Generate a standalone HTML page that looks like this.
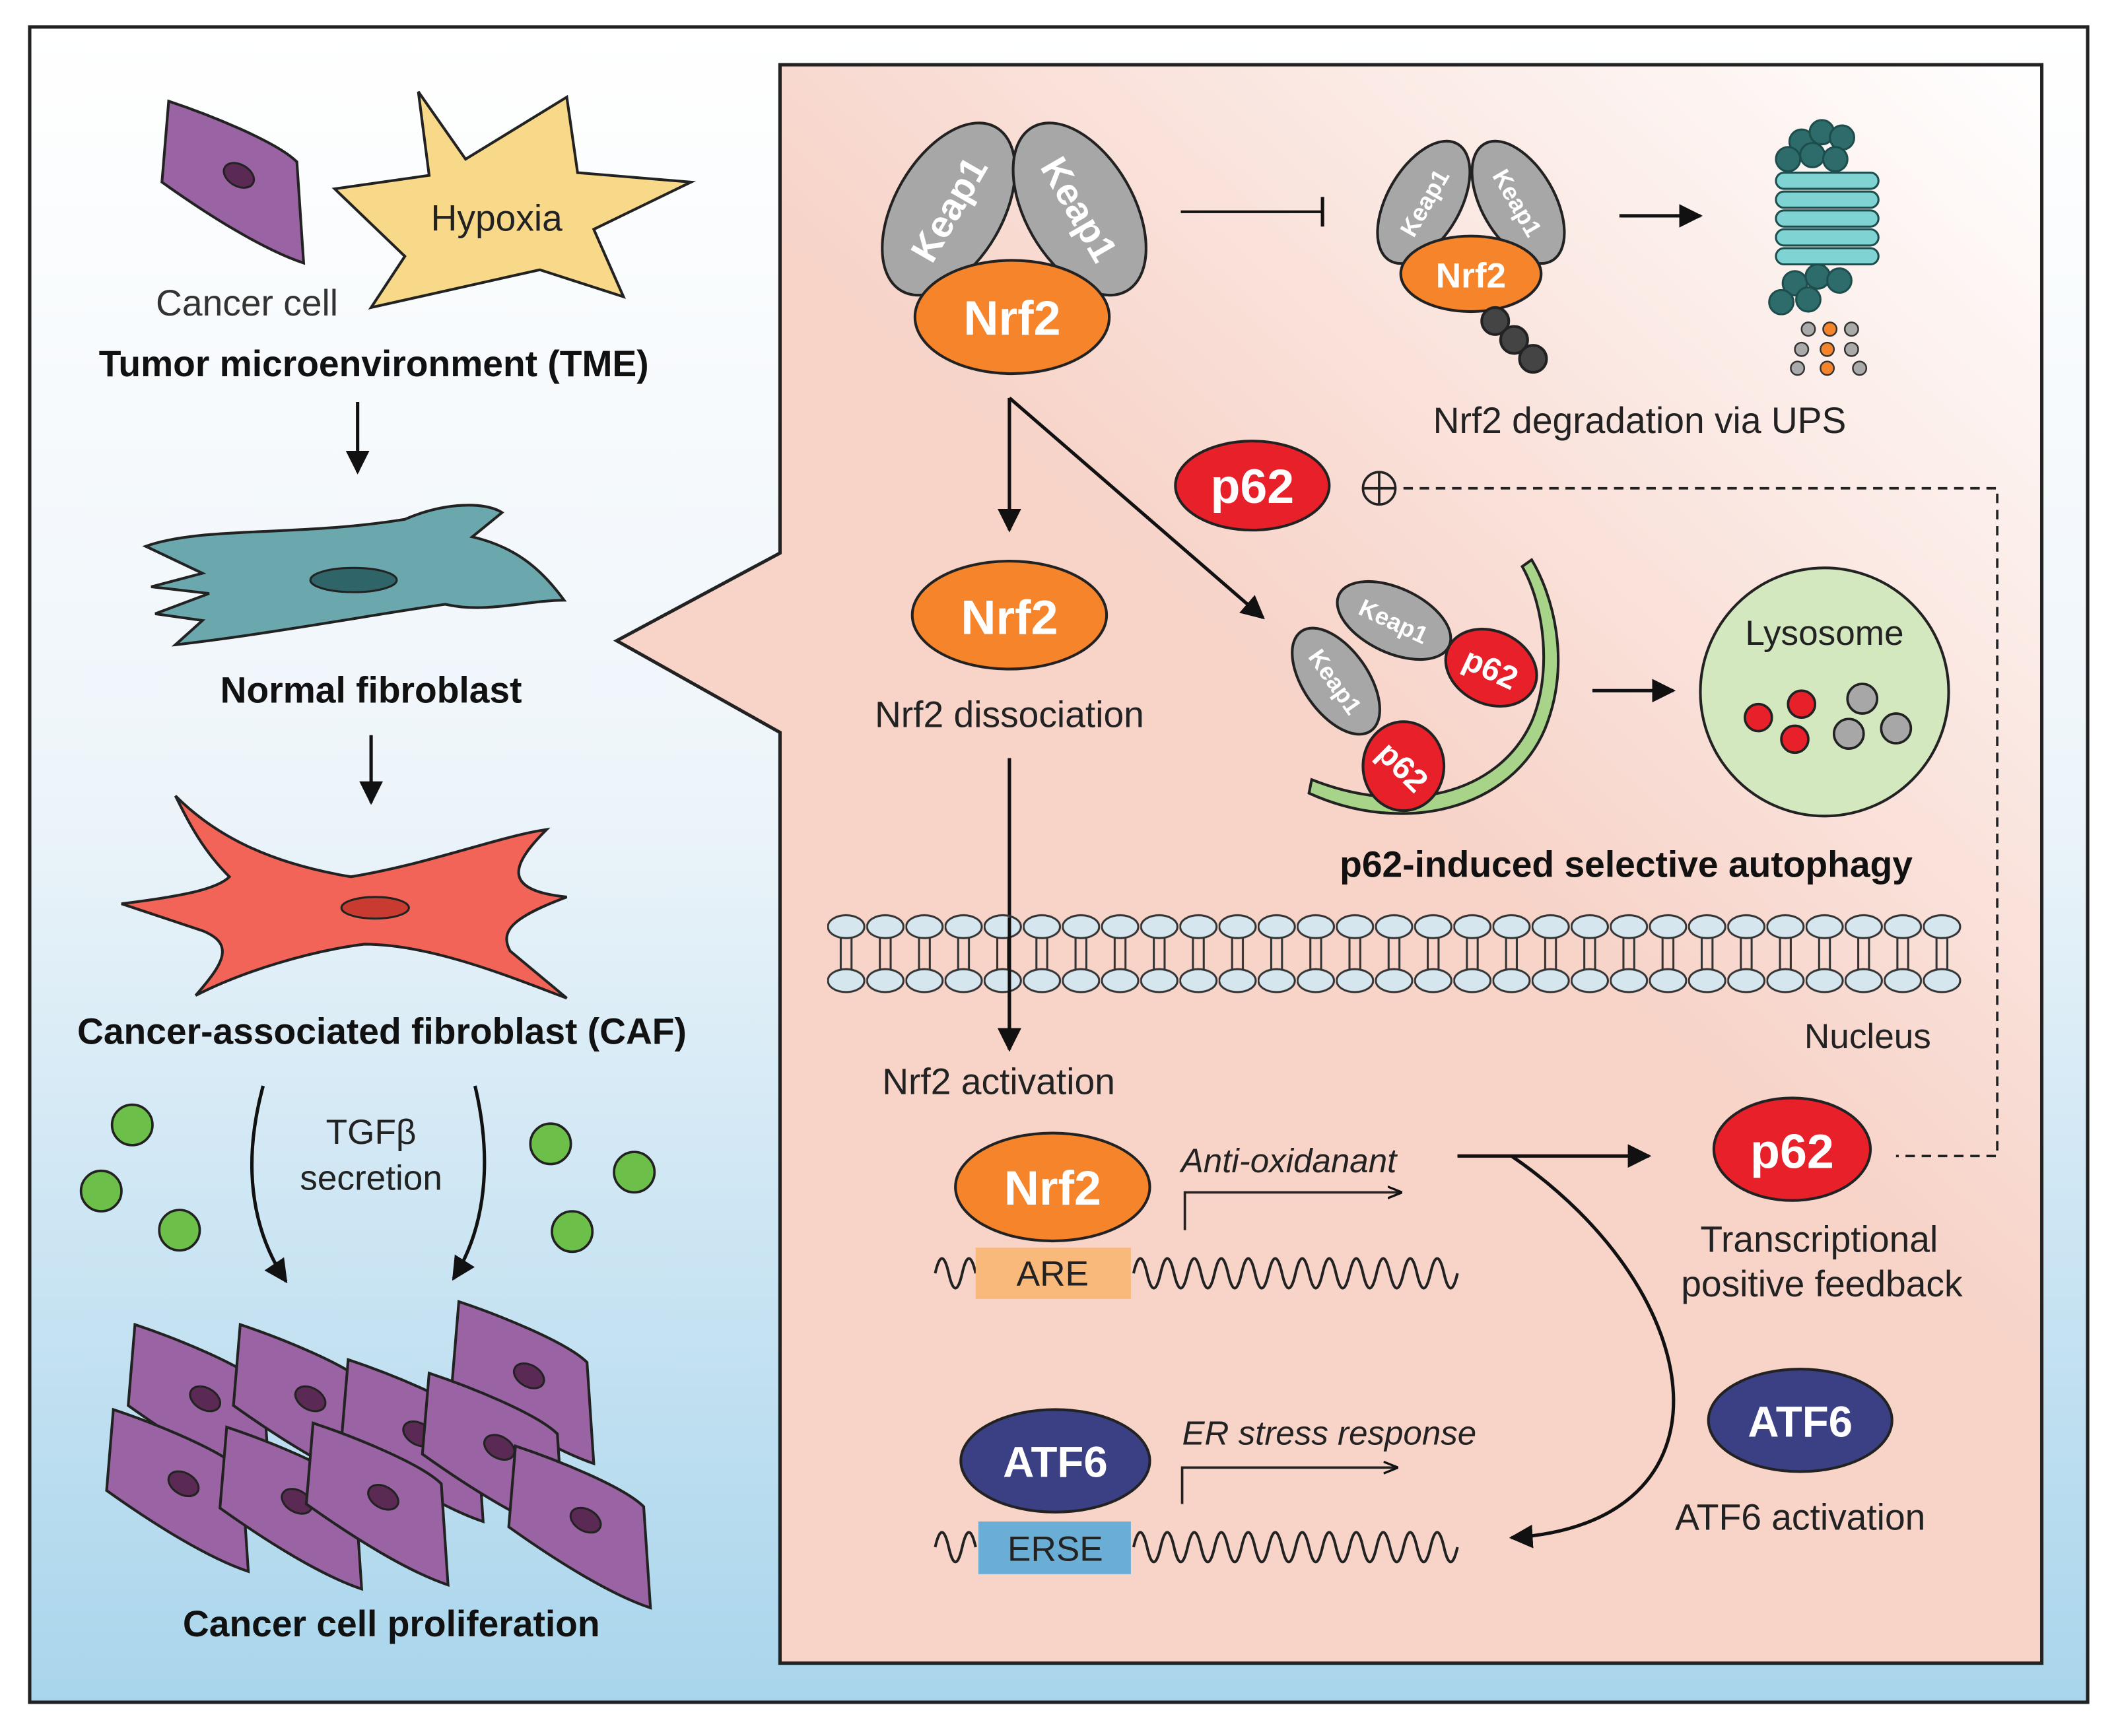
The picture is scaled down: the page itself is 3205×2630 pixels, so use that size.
<!DOCTYPE html>
<html><head><meta charset="utf-8"><style>
html,body{margin:0;padding:0;background:#fff}
svg{display:block}
text{font-family:"Liberation Sans",sans-serif}
</style></head><body>
<svg width="3205" height="2630" viewBox="0 0 1568 1287" preserveAspectRatio="none" xmlns="http://www.w3.org/2000/svg">
<defs>
<linearGradient id="bg" x1="0" y1="0" x2="0" y2="1"><stop offset="0" stop-color="#ffffff"/><stop offset="0.45" stop-color="#eef5fa"/><stop offset="1" stop-color="#a9d5ec"/></linearGradient>
<linearGradient id="pk" x1="1" y1="0" x2="0.6" y2="0.5"><stop offset="0" stop-color="#ffffff"/><stop offset="1" stop-color="#f7d3c8"/></linearGradient>
<marker id="ar" viewBox="0 0 10 10" refX="9" refY="5" markerWidth="7" markerHeight="7" orient="auto"><path d="M0,0L10,5L0,10z" fill="#111"/></marker>
<marker id="ar2" viewBox="0 0 10 10" refX="9" refY="5" markerWidth="6" markerHeight="6" orient="auto"><path d="M0,1L10,5L0,9" fill="none" stroke="#111" stroke-width="1.5"/></marker>
<pattern id="mem" x="613" y="675" width="29" height="64" patternUnits="userSpaceOnUse">
<line x1="10" y1="20" x2="10" y2="44" stroke="#333" stroke-width="1.5"/><line x1="18" y1="20" x2="18" y2="44" stroke="#333" stroke-width="1.5"/>
<ellipse cx="14" cy="12" rx="13.5" ry="8.5" fill="#d6e6ef" stroke="#333" stroke-width="1.5"/>
<ellipse cx="14" cy="52" rx="13.5" ry="8.5" fill="#d6e6ef" stroke="#333" stroke-width="1.5"/>
</pattern>
<g id="cc"><path d="M0,0 C30,10 80,30 95,45 L100,120 C70,110 30,85 -5,60 Z" fill="#9a63a3" stroke="#222" stroke-width="2"/><ellipse cx="52" cy="55" rx="12" ry="8" transform="rotate(30 52 55)" fill="#5a2a55" stroke="#222" stroke-width="1.5"/></g>
</defs>
<rect x="22" y="20" width="1525" height="1242" fill="url(#bg)" stroke="#222" stroke-width="2.5"/>
<path d="M578,48H1513V1233H578V543L457,475L578,410Z" fill="url(#pk)" stroke="#222" stroke-width="2.5"/>

<use href="#cc" transform="translate(125,75)"/>
<path d="M310,68 L345,118 L420,72 L428,128 L512,135 L440,170 L462,220 L400,200 L275,228 L300,190 L248,140 L318,130 Z" fill="#f8d98a" stroke="#222" stroke-width="2"/>
<text x="368" y="171" font-size="27" text-anchor="middle" fill="#222">Hypoxia</text>
<text x="183" y="234" font-size="27" text-anchor="middle" fill="#333">Cancer cell</text>
<text x="277" y="279" font-size="27" font-weight="bold" text-anchor="middle" fill="#111">Tumor microenvironment (TME)</text>
<line x1="265" y1="298" x2="265" y2="350" stroke="#111" stroke-width="2.5" marker-end="url(#ar)"/>
<path d="M108,405 C150,390 220,398 300,385 C330,372 360,372 372,380 L350,398 C380,405 400,420 418,445 C390,445 360,455 330,448 C280,455 200,470 130,478 L150,460 L115,455 L155,440 L112,435 L150,425 Z" fill="#6aa8ad" stroke="#222" stroke-width="2"/>
<ellipse cx="262" cy="430" rx="32" ry="9" fill="#2f6468" stroke="#222" stroke-width="1.5"/>
<text x="275" y="521" font-size="27" font-weight="bold" text-anchor="middle" fill="#111">Normal fibroblast</text>
<line x1="275" y1="545" x2="275" y2="595" stroke="#111" stroke-width="2.5" marker-end="url(#ar)"/>
<path d="M130,590 C160,620 200,640 260,650 C320,640 370,620 405,615 C380,640 370,660 420,665 C380,680 370,690 378,705 L420,740 C380,725 320,700 270,700 C230,705 180,720 145,738 C165,715 175,700 150,690 L90,670 C130,665 160,660 170,650 C150,630 140,610 130,590 Z" fill="#f26457" stroke="#222" stroke-width="2"/>
<ellipse cx="278" cy="673" rx="25" ry="8" fill="#c93a30" stroke="#222" stroke-width="1.5"/>
<text x="283" y="774" font-size="27" font-weight="bold" text-anchor="middle" fill="#111">Cancer-associated fibroblast (CAF)</text>
<path d="M195,805 C180,860 185,910 212,950" fill="none" stroke="#111" stroke-width="2.5" marker-end="url(#ar)"/>
<path d="M352,805 C365,860 360,910 336,948" fill="none" stroke="#111" stroke-width="2.5" marker-end="url(#ar)"/>
<text x="275" y="848" font-size="26" text-anchor="middle" fill="#222">TGFβ</text>
<text x="275" y="882" font-size="26" text-anchor="middle" fill="#222">secretion</text>
<g fill="#6cc04a" stroke="#222" stroke-width="1.8"><circle cx="98" cy="834" r="15"/><circle cx="75" cy="883" r="15"/><circle cx="133" cy="912" r="15"/><circle cx="408" cy="848" r="15"/><circle cx="470" cy="869" r="15"/><circle cx="424" cy="913" r="15"/></g>
<use href="#cc" transform="translate(340,965)"/>
<use href="#cc" transform="translate(100,982)"/>
<use href="#cc" transform="translate(178,982)"/>
<use href="#cc" transform="translate(258,1008)"/>
<use href="#cc" transform="translate(318,1018)"/>
<use href="#cc" transform="translate(84,1045)"/>
<use href="#cc" transform="translate(168,1058)"/>
<use href="#cc" transform="translate(232,1055)"/>
<use href="#cc" transform="translate(382,1072)"/>
<text x="290" y="1213" font-size="27" font-weight="bold" text-anchor="middle" fill="#111">Cancer cell proliferation</text>

<g stroke="#222" stroke-width="2">
<ellipse cx="703" cy="155" rx="40" ry="70" transform="rotate(30 703 155)" fill="#a7a7a7"/>
<ellipse cx="800" cy="155" rx="40" ry="70" transform="rotate(-30 800 155)" fill="#a7a7a7"/>
<ellipse cx="750" cy="235" rx="72" ry="42" fill="#f6842b"/>
</g>
<text x="703" y="165" font-size="28" font-weight="bold" fill="#fff" text-anchor="middle" transform="rotate(-60 703 155)">Keap1</text>
<text x="800" y="165" font-size="28" font-weight="bold" fill="#fff" text-anchor="middle" transform="rotate(60 800 155)">Keap1</text>
<text x="750" y="248" font-size="36" font-weight="bold" fill="#fff" text-anchor="middle">Nrf2</text>
<line x1="875" y1="157" x2="980" y2="157" stroke="#111" stroke-width="2"/><line x1="980" y1="146" x2="980" y2="168" stroke="#111" stroke-width="2.5"/>
<g stroke="#222" stroke-width="2">
<ellipse cx="1055" cy="150" rx="27" ry="50" transform="rotate(30 1055 150)" fill="#a7a7a7"/>
<ellipse cx="1125" cy="150" rx="27" ry="50" transform="rotate(-30 1125 150)" fill="#a7a7a7"/>
<ellipse cx="1090" cy="203" rx="52" ry="28" fill="#f6842b"/>
<circle cx="1108" cy="238" r="10" fill="#444"/><circle cx="1122" cy="252" r="10" fill="#444"/><circle cx="1136" cy="266" r="10" fill="#444"/>
</g>
<text x="1055" y="157" font-size="18" font-weight="bold" fill="#fff" text-anchor="middle" transform="rotate(-60 1055 150)">Keap1</text>
<text x="1125" y="157" font-size="18" font-weight="bold" fill="#fff" text-anchor="middle" transform="rotate(60 1125 150)">Keap1</text>
<text x="1090" y="213" font-size="26" font-weight="bold" fill="#fff" text-anchor="middle">Nrf2</text>
<line x1="1200" y1="160" x2="1260" y2="160" stroke="#111" stroke-width="2.5" marker-end="url(#ar)"/>
<g stroke="#1d4d4d" stroke-width="1.5">
<g fill="#2e6b6b"><circle cx="1335" cy="105" r="9"/><circle cx="1350" cy="98" r="9"/><circle cx="1365" cy="102" r="9"/><circle cx="1325" cy="118" r="9"/><circle cx="1343" cy="115" r="9"/><circle cx="1360" cy="118" r="9"/></g>
<g fill="#7fd3d3"><rect x="1316" y="128" width="76" height="12" rx="6"/><rect x="1316" y="142" width="76" height="12" rx="6"/><rect x="1316" y="156" width="76" height="12" rx="6"/><rect x="1316" y="170" width="76" height="12" rx="6"/><rect x="1316" y="184" width="76" height="12" rx="6"/></g>
<g fill="#2e6b6b"><circle cx="1330" cy="210" r="9"/><circle cx="1347" cy="205" r="9"/><circle cx="1363" cy="208" r="9"/><circle cx="1340" cy="222" r="9"/><circle cx="1320" cy="224" r="9"/></g>
</g>
<g stroke="#333" stroke-width="1.2"><circle cx="1340" cy="244" r="5" fill="#aaa"/><circle cx="1356" cy="244" r="5" fill="#f6842b"/><circle cx="1372" cy="244" r="5" fill="#aaa"/><circle cx="1335" cy="259" r="5" fill="#aaa"/><circle cx="1354" cy="259" r="5" fill="#f6842b"/><circle cx="1372" cy="259" r="5" fill="#aaa"/><circle cx="1332" cy="273" r="5" fill="#aaa"/><circle cx="1354" cy="273" r="5" fill="#f6842b"/><circle cx="1378" cy="273" r="5" fill="#aaa"/></g>
<text x="1215" y="321" font-size="27" text-anchor="middle" fill="#222">Nrf2 degradation via UPS</text>

<ellipse cx="928" cy="360" rx="57" ry="33" fill="#e8202a" stroke="#222" stroke-width="2"/>
<text x="928" y="373" font-size="36" font-weight="bold" fill="#fff" text-anchor="middle">p62</text>
<circle cx="1022" cy="362" r="12" fill="none" stroke="#222" stroke-width="1.8"/><path d="M1010,362H1034M1022,350V374" stroke="#222" stroke-width="1.8"/>
<path d="M1040,362H1480V857H1405" fill="none" stroke="#222" stroke-width="1.8" stroke-dasharray="7,5"/>

<line x1="748" y1="295" x2="748" y2="393" stroke="#111" stroke-width="2.5" marker-end="url(#ar)"/>
<line x1="748" y1="295" x2="936" y2="458" stroke="#111" stroke-width="2.5" marker-end="url(#ar)"/>
<ellipse cx="748" cy="456" rx="72" ry="40" fill="#f6842b" stroke="#222" stroke-width="2"/>
<text x="748" y="470" font-size="36" font-weight="bold" fill="#fff" text-anchor="middle">Nrf2</text>
<text x="748" y="539" font-size="27" text-anchor="middle" fill="#222">Nrf2 dissociation</text>
<line x1="748" y1="562" x2="748" y2="778" stroke="#111" stroke-width="2.5" marker-end="url(#ar)"/>

<path d="M970,588 C1040,620 1120,600 1145,540 C1165,490 1150,440 1135,415 L1128,420 C1145,450 1150,500 1135,535 C1110,590 1040,605 972,578 Z" fill="#a8d48a" stroke="#222" stroke-width="2"/>
<g stroke="#222" stroke-width="2">
<ellipse cx="1033" cy="460" rx="45" ry="24" transform="rotate(25 1033 460)" fill="#a7a7a7"/>
<ellipse cx="1105" cy="495" rx="35" ry="27" transform="rotate(25 1105 495)" fill="#e8202a"/>
<ellipse cx="990" cy="505" rx="24" ry="45" transform="rotate(-35 990 505)" fill="#a7a7a7"/>
<ellipse cx="1040" cy="568" rx="30" ry="33" fill="#e8202a"/>
</g>
<text x="1033" y="467" font-size="18" font-weight="bold" fill="#fff" text-anchor="middle" transform="rotate(25 1033 460)">Keap1</text>
<text x="1105" y="504" font-size="24" font-weight="bold" fill="#fff" text-anchor="middle" transform="rotate(25 1105 495)">p62</text>
<text x="990" y="512" font-size="18" font-weight="bold" fill="#fff" text-anchor="middle" transform="rotate(55 990 505)">Keap1</text>
<text x="1040" y="577" font-size="24" font-weight="bold" fill="#fff" text-anchor="middle" transform="rotate(45 1040 568)">p62</text>
<line x1="1180" y1="512" x2="1240" y2="512" stroke="#111" stroke-width="2.5" marker-end="url(#ar)"/>
<circle cx="1352" cy="513" r="92" fill="#d4e8c0" stroke="#222" stroke-width="2"/>
<text x="1352" y="478" font-size="26" text-anchor="middle" fill="#222">Lysosome</text>
<g stroke="#222" stroke-width="1.8"><circle cx="1303" cy="532" r="10" fill="#e8202a"/><circle cx="1335" cy="522" r="10" fill="#e8202a"/><circle cx="1330" cy="548" r="10" fill="#e8202a"/><circle cx="1380" cy="518" r="11" fill="#a7a7a7"/><circle cx="1370" cy="544" r="11" fill="#a7a7a7"/><circle cx="1405" cy="540" r="11" fill="#a7a7a7"/></g>
<text x="1205" y="650" font-size="27" font-weight="bold" text-anchor="middle" fill="#111">p62-induced selective autophagy</text>

<rect x="613" y="675" width="841" height="64" fill="url(#mem)"/>
<line x1="748" y1="680" x2="748" y2="778" stroke="#111" stroke-width="2.5" marker-end="url(#ar)"/>
<text x="1384" y="777" font-size="26" text-anchor="middle" fill="#222">Nucleus</text>
<text x="740" y="811" font-size="27" text-anchor="middle" fill="#222">Nrf2 activation</text>

<path d="M693,944 q5,-22 10,0 q5,22 10,0 q5,-22 10,0" fill="none" stroke="#222" stroke-width="2"/>
<path d="M840,944 q5,-22 10,0 q5,22 10,0 q5,-22 10,0 q5,22 10,0 q5,-22 10,0 q5,22 10,0 q5,-22 10,0 q5,22 10,0 q5,-22 10,0 q5,22 10,0 q5,-22 10,0 q5,22 10,0 q5,-22 10,0 q5,22 10,0 q5,-22 10,0 q5,22 10,0 q5,-22 10,0 q5,22 10,0 q5,-22 10,0 q5,22 10,0 q5,-22 10,0 q5,22 10,0 q5,-22 10,0 q5,22 10,0" fill="none" stroke="#222" stroke-width="2"/>
<rect x="723" y="925" width="115" height="38" fill="#f9b97a"/>
<text x="780" y="953" font-size="26" text-anchor="middle" fill="#222">ARE</text>
<ellipse cx="780" cy="880" rx="72" ry="40" fill="#f6842b" stroke="#222" stroke-width="2"/>
<text x="780" y="893" font-size="36" font-weight="bold" fill="#fff" text-anchor="middle">Nrf2</text>
<text x="955" y="869" font-size="25" font-style="italic" text-anchor="middle" fill="#222">Anti-oxidanant</text>
<path d="M878,912V884H1038" fill="none" stroke="#222" stroke-width="1.8" marker-end="url(#ar2)"/>
<line x1="1080" y1="857" x2="1222" y2="857" stroke="#111" stroke-width="2.5" marker-end="url(#ar)"/>
<path d="M1120,857 C1270,960 1290,1130 1120,1140" fill="none" stroke="#111" stroke-width="2.5" marker-end="url(#ar)"/>
<ellipse cx="1328" cy="852" rx="58" ry="38" fill="#e8202a" stroke="#222" stroke-width="2"/>
<text x="1328" y="866" font-size="36" font-weight="bold" fill="#fff" text-anchor="middle">p62</text>
<text x="1348" y="928" font-size="27" text-anchor="middle" fill="#222">Transcriptional</text>
<text x="1350" y="961" font-size="27" text-anchor="middle" fill="#222">positive feedback</text>
<ellipse cx="1334" cy="1053" rx="68" ry="38" fill="#3b3f84" stroke="#222" stroke-width="2"/>
<text x="1334" y="1065" font-size="32" font-weight="bold" fill="#fff" text-anchor="middle">ATF6</text>
<text x="1334" y="1134" font-size="27" text-anchor="middle" fill="#222">ATF6 activation</text>

<path d="M693,1147 q5,-22 10,0 q5,22 10,0 q5,-22 10,0" fill="none" stroke="#222" stroke-width="2"/>
<path d="M840,1147 q5,-22 10,0 q5,22 10,0 q5,-22 10,0 q5,22 10,0 q5,-22 10,0 q5,22 10,0 q5,-22 10,0 q5,22 10,0 q5,-22 10,0 q5,22 10,0 q5,-22 10,0 q5,22 10,0 q5,-22 10,0 q5,22 10,0 q5,-22 10,0 q5,22 10,0 q5,-22 10,0 q5,22 10,0 q5,-22 10,0 q5,22 10,0 q5,-22 10,0 q5,22 10,0 q5,-22 10,0 q5,22 10,0" fill="none" stroke="#222" stroke-width="2"/>
<rect x="725" y="1128" width="113" height="39" fill="#6aaed6"/>
<text x="782" y="1157" font-size="26" text-anchor="middle" fill="#222">ERSE</text>
<ellipse cx="782" cy="1083" rx="70" ry="38" fill="#3b3f84" stroke="#222" stroke-width="2"/>
<text x="782" y="1095" font-size="32" font-weight="bold" fill="#fff" text-anchor="middle">ATF6</text>
<text x="985" y="1071" font-size="25" font-style="italic" text-anchor="middle" fill="#222">ER stress response</text>
<path d="M876,1115V1088H1035" fill="none" stroke="#222" stroke-width="1.8" marker-end="url(#ar2)"/>
</svg>
</body></html>
